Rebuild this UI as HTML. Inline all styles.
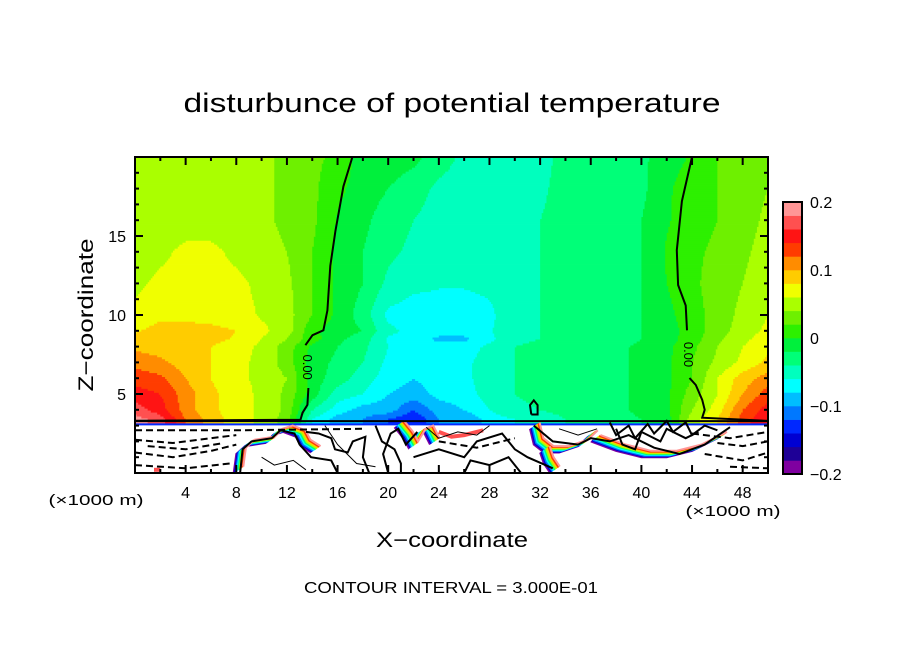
<!DOCTYPE html>
<html><head><meta charset="utf-8"><style>
html,body{margin:0;padding:0;background:#fff;}
svg{display:block;font-family:"Liberation Sans",sans-serif;}
</style></head><body>
<svg id="chart" width="904" height="654" viewBox="0 0 904 654">
<text x="452" y="112" font-size="27" text-anchor="middle" textLength="537" lengthAdjust="spacingAndGlyphs">disturbunce of potential temperature</text>
<g id="field"></g>
<g id="lower"></g>
<g id="lines"></g>
<g id="axes"></g>
<g id="cbar"></g>
<text x="0" y="0" font-size="21" text-anchor="middle" transform="translate(93,315) rotate(-90)" textLength="153" lengthAdjust="spacingAndGlyphs">Z−coordinate</text>
<text x="452" y="547" font-size="21" text-anchor="middle" textLength="152" lengthAdjust="spacingAndGlyphs">X−coordinate</text>
<text x="96" y="505" font-size="15" text-anchor="middle" textLength="95" lengthAdjust="spacingAndGlyphs">(×1000 m)</text>
<text x="733" y="516" font-size="15" text-anchor="middle" textLength="95" lengthAdjust="spacingAndGlyphs">(×1000 m)</text>
<text x="451" y="593" font-size="16" text-anchor="middle" textLength="294" lengthAdjust="spacingAndGlyphs">CONTOUR INTERVAL = 3.000E-01</text>
</svg>
<script>
const xNodes=[0,2,4,6,8,10,12,14,16,18,20,22,24,26,28,30,32,34,36,38,40,42,44,46,48,50];
const zNodes=[3.4,4,5,6,7,8,8.5,9,10,12,14,16,18,20];
const row34=[.19,.17,.12,.09,.07,.055,.03,-.06,-.09,-.1,-.12,-.14,-.1,-.1,-.07,-.06,-.06,-.04,-.04,-.03,-.02,-.01,.05,.08,.13,.16];
const row4=[.17,.15,.11,.085,.07,.055,.035,-.04,-.07,-.09,-.09,-.12,-.09,-.08,-.06,-.045,-.04,-.03,-.03,-.025,-.015,-.005,.04,.07,.12,.15];
const row5=[.15,.14,.11,.085,.07,.055,.035,-.01,-.05,-.06,-.08,-.09,-.075,-.07,-.05,-.04,-.035,-.03,-.03,-.025,-.015,-.005,.03,.06,.1,.13];
const row6=[.13,.125,.1,.08,.065,.055,.04,-.01,-.03,-.05,-.07,-.08,-.07,-.065,-.05,-.04,-.035,-.03,-.03,-.025,-.015,-.005,.02,.06,.09,.11];
const row7=[.115,.105,.09,.08,.065,.055,.03,-.01,-.025,-.04,-.065,-.07,-.07,-.065,-.05,-.04,-.035,-.03,-.03,-.025,-.015,-.005,.02,.045,.065,.085];
const row8=[.095,.09,.085,.08,.07,.055,.03,-.005,-.02,-.035,-.06,-.07,-.07,-.07,-.055,-.04,-.035,-.03,-.03,-.025,-.015,-.005,.015,.04,.06,.075];
const row85=[.085,.088,.088,.086,.078,.06,.04,.008,-.015,-.03,-.062,-.07,-.085,-.085,-.065,-.045,-.04,-.03,-.03,-.03,-.02,-.008,.01,.035,.055,.07];
const row9=[.078,.088,.088,.086,.08,.065,.05,.005,-.01,-.02,-.055,-.066,-.07,-.07,-.062,-.045,-.04,-.03,-.03,-.03,-.02,-.01,.01,.03,.05,.065];
const row10=[.065,.075,.075,.072,.068,.058,.048,.02,-.005,-.03,-.065,-.07,-.07,-.07,-.065,-.045,-.04,-.03,-.03,-.03,-.02,-.005,.01,.03,.045,.06];
const row12=[.055,.065,.07,.07,.065,.055,.045,.02,-.005,-.02,-.045,-.055,-.058,-.058,-.055,-.045,-.04,-.03,-.03,-.03,-.02,0,.015,.03,.04,.055];
const row14=[.05,.055,.065,.065,.055,.05,.04,.02,-.005,-.02,-.035,-.045,-.05,-.05,-.05,-.045,-.04,-.03,-.03,-.03,-.02,.002,.015,.025,.035,.05];
const row16=[.05,.05,.05,.05,.05,.045,.035,.025,-.002,-.015,-.03,-.04,-.05,-.05,-.05,-.045,-.04,-.03,-.03,-.03,-.02,-.002,.01,.02,.03,.045];
const row18=[.05,.05,.05,.05,.05,.045,.035,.025,.005,-.01,-.02,-.03,-.045,-.05,-.05,-.05,-.045,-.03,-.03,-.03,-.025,-.003,.01,.02,.03,.04];
const row20=[.05,.05,.05,.05,.05,.045,.035,.025,.015,-.01,-.01,-.015,-.03,-.045,-.05,-.05,-.05,-.03,-.03,-.03,-.025,-.008,.002,.02,.03,.04];
const fieldRows=[row34,row4,row5,row6,row7,row8,row85,row9,row10,row12,row14,row16,row18,row20];
const levelColors=["#7f00a0","#1e0096","#0000d2","#0028ff","#0078ff","#00beff","#00ffff","#00ffbe","#00ff78","#00f03c","#2df000","#6ef000","#aaff00","#f0ff00","#ffcc00","#ff8c00","#ff3c00","#ff1414","#ff5050","#ff9696"];
const cbarLabels=[0.2,0.1,0,-0.1,-0.2];
const xTicks=[4,8,12,16,20,24,28,32,36,40,44,48];
const zTicks=[5,10,15];
const zeroLineLeftUpper=[[17.17,20],[16.46,18.14],[15.83,15.31],[15.43,13.11],[15.2,10.29],[14.88,9.03],[14.02,8.72],[13.46,8.09]];
const zeroLineLeftLower=[[13.7,5.38],[13.62,4.31],[13.23,3.81],[13.07,3.37],[0,3.31]];
const zeroLineRightUpper=[[44.0,20],[43.2,17.2],[42.8,14.1],[42.9,11.9],[43.5,10.6],[43.6,9.03]];
const zeroLineRightLower=[[43.8,6.01],[44.3,5.57],[44.8,4.63],[45.0,4.0],[44.8,3.5],[50,3.3]];
const zeroLoop=[[31.3,3.7],[31.2,4.3],[31.5,4.6],[31.8,4.3],[31.8,3.7],[31.3,3.7]];
const solidContours=[
 [[13.5,2.6],[14.5,2.5],[15.5,2.2],[15.8,1.5],[16.8,1.3],[17.2,2.0],[18.2,2.3],[18.0,1.0],[18.5,0]],
 [[20,0],[19.6,1.2],[20.2,2.5],[20.8,2.8],[21.4,1.8],[22.3,2.6]],
 [[31.5,3.0],[33,2.0],[35,1.8],[36,2.2],[37.5,2.0],[39,2.4],[41,1.6],[43,1.2],[45,1.8],[47,2.9]],
 [[22,1.0],[24,1.5],[26,1.0],[27,2.0],[29,2.5],[30,1.5],[31,1.0],[33,0.3]],
 [[8.3,0],[8.5,1.5],[9.2,2.0],[10.8,2.2],[11.5,2.7],[12.6,2.5],[13,1.8],[13.9,1.0],[15.5,0.8],[16.0,0]],
 [[37.5,3.2],[38,2.4],[39,3],[39.5,2.2],[40.5,3.1],[41,2.5],[42,3.3],[42.5,2.6],[43.5,3.2],[44,2.4],[45,3.0],[46,2.7]],
 [[38,2.8],[38.5,1.8],[39.5,1.5],[40,2.6],[41.5,2.0],[42,2.8],[43.5,2.2],[44.5,2.6]],
 [[19,3.0],[19.5,2.0],[20.5,1.5],[21,0.6],[21,0]],
 [[26,0],[26.5,0.8],[28,0.5],[29.5,1.0],[30.5,0]]
];
const thinContours=[
 [[15,3.0],[16,1.8],[17.5,0.6],[19,0.4]],
 [[23,2.9],[24,2.2],[25.5,2.6],[27,2.4],[28,3.0]],
 [[33.5,2.8],[35,2.4],[36.5,2.8]],
 [[10,1.0],[11,0.5],[12.5,0.8],[13.5,0.2]]
];
const dashedContours=[
 [[0,2.7],[8,2.7],[18,2.8]],
 [[0,2.1],[3,1.9],[6,2.2],[8,2.4]],
 [[0,1.3],[3,1.0],[6,1.4],[8,1.8]],
 [[0,0.5],[4,0.3],[7.5,0.6]],
 [[1,1.7],[4,1.5],[7,1.9]],
 [[24,2.0],[27,1.6],[30,2.2]],
 [[44,2.5],[47,2.2],[50,2.6]],
 [[45,1.2],[48,0.8],[50,1.3]],
 [[46,1.9],[48,1.7],[50,2.0]],
 [[47,0.4],[50,0.3]]
];
const rainbowBands=[
 [[7.8,0],[8.0,1.2],[8.7,1.7],[10.3,1.9],[10.9,2.4],[11.7,2.6],[12.7,2.3],[13.1,1.7],[13.9,1.3]],
 [[20.5,2.9],[21.2,2.2],[21.6,1.6],[22.2,2.4],[22.8,2.6],[23.3,1.8]],
 [[31.2,2.8],[31.5,1.8],[32.3,1.3],[33.5,1.3],[35,1.7],[35.8,2.3]],
 [[32,1.3],[32.3,0.6],[32.8,0]],
 [[36,2],[38,1.4],[40,1.0],[42,1.0],[44,1.4],[46,2.2]]
];
const redPatches=[[[24,2.6],[25,2.3],[26,2.4],[27.5,2.7]],[[1.5,0.2],[2,0.2]]];

const NS="http://www.w3.org/2000/svg";
const X0=135,X1=768,Y0=157,Y1=473;
function sx(x){return X0+x*(X1-X0)/50;}
function sz(z){return Y1-z*(Y1-Y0)/20;}
function col(v){let k=Math.floor((v+0.2)/0.02);k=Math.max(0,Math.min(19,k));return levelColors[k];}
function interp(x,z){
  let zi=0;while(zi<zNodes.length-2&&z>zNodes[zi+1])zi++;
  let tz=(z-zNodes[zi])/(zNodes[zi+1]-zNodes[zi]);tz=Math.max(0,Math.min(1,tz));
  let xi=Math.min(xNodes.length-2,Math.floor(x/2));let tx=(x-xNodes[xi])/(xNodes[xi+1]-xNodes[xi]);
  const a=fieldRows[zi],b=fieldRows[zi+1];
  const v0=a[xi]*(1-tx)+a[xi+1]*tx, v1=b[xi]*(1-tx)+b[xi+1]*tx;
  return v0*(1-tz)+v1*tz;
}
function mk(tag,attrs,parent){const e=document.createElementNS(NS,tag);for(const k in attrs)e.setAttribute(k,attrs[k]);parent.appendChild(e);return e;}
function pts(arr){return arr.map(p=>sx(p[0]).toFixed(1)+","+sz(p[1]).toFixed(1)).join(" ");}

const field=document.getElementById("field");
const dz=0.125,dx=0.125,zBase=3.1;
for(let z=zBase;z<20;z+=dz){
  let runStart=0,runCol=null;
  for(let x=0;x<=50+1e-9;x+=dx){
    const c=x<50?col(interp(x+dx/2,z+dz/2)):null;
    if(c!==runCol){
      if(runCol!==null){
        const r=mk("rect",{x:sx(runStart).toFixed(2),y:sz(Math.min(20,z+dz)).toFixed(2),width:(sx(x)-sx(runStart)+0.4).toFixed(2),height:(sz(z)-sz(Math.min(20,z+dz))+0.4).toFixed(2),fill:runCol},field);
        
        
      }
      runStart=x;runCol=c;
    }
  }
}
const lower=document.getElementById("lower");
const wr=mk("rect",{x:X0,y:sz(3.05),width:X1-X0,height:Y1-sz(3.05),fill:"#fff"},lower);


const gb=mk("line",{x1:X0,x2:X1,y1:sz(3.08),y2:sz(3.08),stroke:"#0028ff","stroke-width":2},lower);


const rbColors=["#7f00a0","#0000d2","#0078ff","#00ffff","#00ff78","#aaff00","#ffcc00","#ff3c00","#ff9696"];
rainbowBands.forEach(b=>{
  rbColors.forEach((c,i)=>{
    const p=mk("polyline",{points:pts(b),fill:"none",stroke:c,"stroke-width":2,transform:`translate(${i*1.2},${-i*0.8})`},lower);
    
    
  });
});
redPatches.forEach(b=>{
  const p=mk("polyline",{points:pts(b),fill:"none",stroke:"#ff5050","stroke-width":4},lower);
  
  
});
const lines=document.getElementById("lines");
[zeroLineLeftUpper,zeroLineLeftLower,zeroLineRightUpper,zeroLineRightLower,zeroLoop].forEach(l=>{
  const p=mk("polyline",{points:pts(l),fill:"none",stroke:"#000","stroke-width":2},lines);
  
  
});
const gl=mk("line",{x1:X0,x2:X1,y1:sz(3.28),y2:sz(3.28),stroke:"#000","stroke-width":2},lines);


solidContours.forEach(l=>{
  const p=mk("polyline",{points:pts(l),fill:"none",stroke:"#000","stroke-width":2},lines);
  
  
});
thinContours.forEach(l=>{
  const p=mk("polyline",{points:pts(l),fill:"none",stroke:"#000","stroke-width":1},lines);
  
  
});
dashedContours.forEach(l=>{
  const p=mk("polyline",{points:pts(l),fill:"none",stroke:"#000","stroke-width":2,"stroke-dasharray":"7,4"},lines);
  
  
});
[[13.6,6.7],[43.7,7.5]].forEach(p=>{
  const t=mk("text",{x:0,y:0,"font-size":13,"text-anchor":"middle",transform:`translate(${sx(p[0])-4},${sz(p[1])}) rotate(90)`},lines);
  t.textContent="0.00";
  
  
});
const axes=document.getElementById("axes");
const fr=mk("rect",{x:X0,y:Y0,width:X1-X0,height:Y1-Y0,fill:"none",stroke:"#000","stroke-width":2},axes);


for(let x=2;x<50;x+=2){
  const L=(x%4===0)?8:4;
  mk("line",{x1:sx(x),x2:sx(x),y1:Y1,y2:Y1-L,stroke:"#000","stroke-width":2},axes);
  mk("line",{x1:sx(x),x2:sx(x),y1:Y0,y2:Y0+L,stroke:"#000","stroke-width":2},axes);
}
for(let z=1;z<20;z++){
  const L=(z%5===0)?8:4;
  mk("line",{x1:X0,x2:X0+L,y1:sz(z),y2:sz(z),stroke:"#000","stroke-width":2},axes);
  mk("line",{x1:X1,x2:X1-L,y1:sz(z),y2:sz(z),stroke:"#000","stroke-width":2},axes);
}
xTicks.forEach(v=>{
  const t=mk("text",{x:sx(v),y:498,"font-size":16,"text-anchor":"middle"},axes);
  t.textContent=v;
  
  
});
zTicks.forEach(v=>{
  const t=mk("text",{x:126,y:sz(v)+6,"font-size":16,"text-anchor":"end"},axes);
  t.textContent=v;
  
  
});
const cb=document.getElementById("cbar");
const CX=783,CW=19,CT=202,CB=474;
levelColors.forEach((c,i)=>{
  const h=(CB-CT)/levelColors.length;
  const r=mk("rect",{x:CX,y:(CB-(i+1)*h).toFixed(2),width:CW,height:(h+0.3).toFixed(2),fill:c},cb);
  
  
});
const cf=mk("rect",{x:CX,y:CT,width:CW,height:CB-CT,fill:"none",stroke:"#000","stroke-width":2},cb);


cbarLabels.forEach(v=>{
  const y=CB-(v+0.2)/0.4*(CB-CT);
  const t=mk("text",{x:810,y:y+6,"font-size":16},cb);
  t.textContent=(v<0?"−":"")+Math.abs(v).toString();
  
  
});
</script>
</body></html>
